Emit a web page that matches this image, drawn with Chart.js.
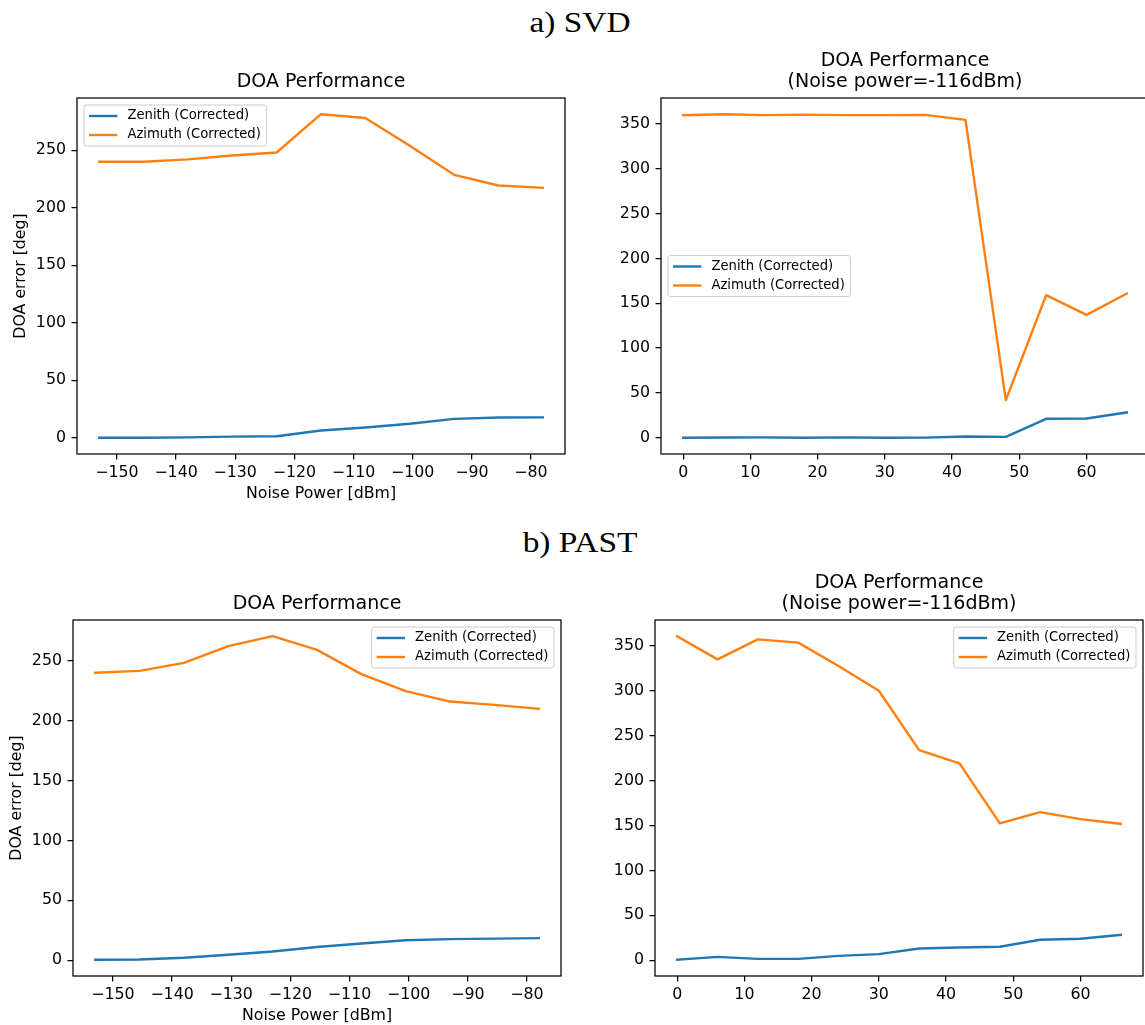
<!DOCTYPE html>
<html>
<head>
<meta charset="utf-8">
<script src="https://cdn.jsdelivr.net/npm/chart.js@4/dist/chart.umd.min.js"></script>
<style>
html,body{margin:0;padding:0;background:#fff;overflow:hidden;width:1145px;height:1025px;}
.panel{position:absolute;}
.panel canvas{display:block;}
.sup{position:absolute;font-family:"Liberation Serif","DejaVu Serif",serif;font-size:29px;line-height:1;color:#000;white-space:nowrap;transform:translateX(-50%) scaleX(1.15);transform-origin:center;}
</style>
</head>
<body>
<div class="sup" style="left:579.5px;top:7.5px;">a) SVD</div>
<div class="sup" style="left:579.5px;top:527.5px;">b) PAST</div>
<div class="panel" id="pA1"><canvas id="cA1"></canvas></div>
<div class="panel" id="pA2"><canvas id="cA2"></canvas></div>
<div class="panel" id="pB1"><canvas id="cB1"></canvas></div>
<div class="panel" id="pB2"><canvas id="cB2"></canvas></div>
<script>
// ---------- data ----------
const noisePower = [-153, -145.5, -138, -130.5, -123, -115.5, -108, -100.5, -93, -85.5, -78];
const snrAxis = [0, 6, 12, 18, 24, 30, 36, 42, 48, 54, 60, 66];

const svdNoiseZenith  = [0, 0, 0.4, 1, 1.4, 6.4, 9, 12.2, 16.5, 17.7, 17.8];
const svdNoiseAzimuth = [240, 240, 242, 245.4, 248, 281.3, 278, 253.8, 228.6, 219.3, 217.3];

const svdSnrZenith  = [0, 0.3, 0.5, 0, 0.5, 0, 0.2, 1.5, 1.1, 21.2, 21.6, 28.3];
const svdSnrAzimuth = [359.7, 360.8, 359.7, 360.3, 359.7, 359.7, 360, 354.4, 42, 159, 137, 160.8];

const pastNoiseZenith  = [0.3, 0.6, 2, 4.5, 7.2, 11, 13.9, 16.7, 17.6, 18, 18.4];
const pastNoiseAzimuth = [240, 241.6, 248.3, 262.3, 270.6, 259.2, 238.9, 224.7, 216, 213.2, 210];

const pastSnrZenith  = [0.4, 3.7, 1.5, 1.5, 4.8, 6.7, 13, 14.1, 14.9, 22.7, 23.8, 28.2];
const pastSnrAzimuth = [361, 335.2, 357.5, 353.8, 327.7, 300.2, 234, 219.2, 152.4, 165, 157.2, 151.9];

const noiseTicks = [-150, -140, -130, -120, -110, -100, -90, -80];
const snrTicks = [0, 10, 20, 30, 40, 50, 60];
const errTicksLow = [0, 50, 100, 150, 200, 250];
const errTicksHigh = [0, 50, 100, 150, 200, 250, 300, 350];

const seriesLabels = ['Zenith (Corrected)', 'Azimuth (Corrected)'];
const seriesColors = ['#1f77b4', '#ff7f0e'];

const titleSingle = 'DOA Performance';
const titleDouble = ['DOA Performance', '(Noise power=-116dBm)'];
const xAxisLabel = 'Noise Power [dBm]';
const yAxisLabel = 'DOA error [deg]';

// ---------- helpers ----------
const FONT = '"DejaVu Sans", sans-serif';
Chart.defaults.font.family = FONT;
Chart.defaults.color = '#000';

function padRange(arrs) {
  const all = [].concat(...arrs);
  const lo = Math.min(...all), hi = Math.max(...all), m = (hi - lo) * 0.05;
  return [lo - m, hi + m];
}
function fmt(v) { return v < 0 ? '\u2212' + Math.abs(v) : String(v); }

const framePlugin = {
  id: 'mplFrame',
  afterDatasetsDraw(chart, args, opts) {
    const ctx = chart.ctx, ca = chart.chartArea;
    ctx.save();
    // spines
    ctx.strokeStyle = '#000';
    ctx.lineWidth = 1.25;
    ctx.strokeRect(ca.left, ca.top, ca.right - ca.left, ca.bottom - ca.top);
    // legend box
    const fs = 13.2;
    ctx.font = fs + 'px ' + FONT;
    const ds = chart.data.datasets;
    const tw = Math.max(...ds.map(d => ctx.measureText(d.label).width));
    const textX = 43.4, w = textX + tw + 5.5, h = 41, pad = 7;
    let x, y;
    if (opts.loc === 'upper left') { x = ca.left + pad; y = ca.top + pad; }
    else if (opts.loc === 'upper right') { x = ca.right - pad - w; y = ca.top + pad; }
    else { x = ca.left + pad; y = (ca.top + ca.bottom) / 2 - h / 2; }
    const r = 2.6;
    ctx.beginPath();
    ctx.moveTo(x + r, y);
    ctx.lineTo(x + w - r, y); ctx.arcTo(x + w, y, x + w, y + r, r);
    ctx.lineTo(x + w, y + h - r); ctx.arcTo(x + w, y + h, x + w - r, y + h, r);
    ctx.lineTo(x + r, y + h); ctx.arcTo(x, y + h, x, y + h - r, r);
    ctx.lineTo(x, y + r); ctx.arcTo(x, y, x + r, y, r);
    ctx.closePath();
    ctx.fillStyle = 'rgba(255,255,255,0.8)';
    ctx.fill();
    ctx.strokeStyle = '#cccccc';
    ctx.lineWidth = 1;
    ctx.stroke();
    ds.forEach((d, i) => {
      const cy = y + 11 + i * 19;
      ctx.beginPath();
      ctx.strokeStyle = d.borderColor;
      ctx.lineWidth = d.borderWidth;
      ctx.lineCap = 'butt';
      ctx.moveTo(x + 5, cy); ctx.lineTo(x + 33.4, cy);
      ctx.stroke();
      ctx.fillStyle = '#000';
      ctx.textBaseline = 'middle';
      ctx.textAlign = 'left';
      ctx.fillText(d.label, x + textX, cy);
    });
    ctx.restore();
  }
};

const YW = 90, TH = 60, XH = 60, PR = 20;

function makePanel(cfg) {
  const wrap = document.getElementById(cfg.wrap);
  const cv = document.getElementById(cfg.canvas);
  const a = cfg.area;
  const W = (a.r - a.l) + YW + PR, H = (a.b - a.t) + TH + XH;
  wrap.style.left = (a.l - YW) + 'px';
  wrap.style.top = (a.t - TH) + 'px';
  cv.width = W; cv.height = H;
  cv.style.width = W + 'px'; cv.style.height = H + 'px';

  const [xmin, xmax] = padRange([cfg.xs]);
  const [ymin, ymax] = padRange([cfg.zen, cfg.azi]);
  const nLines = Array.isArray(cfg.title) ? cfg.title.length : 1;
  const tpb = 5;
  const tpt = TH - nLines * 21 - tpb;

  const tickGrid = { display: true, drawOnChartArea: false, drawTicks: true, tickLength: 5.5, color: '#000', lineWidth: 1.25 };

  new Chart(cv, {
    type: 'line',
    data: {
      datasets: [
        { label: seriesLabels[0], data: cfg.xs.map((x, i) => ({ x: x, y: cfg.zen[i] })), borderColor: seriesColors[0], backgroundColor: seriesColors[0], borderWidth: 2.4, pointRadius: 0, tension: 0, fill: false, borderJoinStyle: 'round', borderCapStyle: 'square' },
        { label: seriesLabels[1], data: cfg.xs.map((x, i) => ({ x: x, y: cfg.azi[i] })), borderColor: seriesColors[1], backgroundColor: seriesColors[1], borderWidth: 2.4, pointRadius: 0, tension: 0, fill: false, borderJoinStyle: 'round', borderCapStyle: 'square' }
      ]
    },
    options: {
      responsive: false,
      animation: false,
      devicePixelRatio: 1,
      layout: { padding: { left: 0, top: 0, right: PR, bottom: 0 } },
      plugins: {
        legend: { display: false },
        tooltip: { enabled: false },
        title: {
          display: true, text: cfg.title, fullSize: false, color: '#000',
          font: { family: FONT, size: 19, weight: 'normal', lineHeight: '21px' },
          padding: { top: tpt, bottom: tpb }
        },
        mplFrame: { loc: cfg.legendLoc }
      },
      scales: {
        x: {
          type: 'linear', min: xmin, max: xmax,
          afterBuildTicks: s => { s.ticks = cfg.xTicks.map(v => ({ value: v })); },
          afterFit: s => { s.height = XH; },
          ticks: { callback: v => fmt(v), color: '#000', font: { family: FONT, size: 15.8 }, padding: 4, maxRotation: 0, autoSkip: false },
          grid: tickGrid,
          border: { display: false },
          title: { display: !!cfg.xLabel, text: cfg.xLabel || '', color: '#000', font: { family: FONT, size: 15.8 }, padding: { top: 0, bottom: 11 } }
        },
        y: {
          type: 'linear', min: ymin, max: ymax,
          afterBuildTicks: s => { s.ticks = cfg.yTicks.map(v => ({ value: v })); },
          afterFit: s => { s.width = YW; },
          ticks: { callback: v => fmt(v), color: '#000', font: { family: FONT, size: 15.8 }, padding: 5.5, autoSkip: false },
          grid: tickGrid,
          border: { display: false },
          title: { display: !!cfg.yLabel, text: cfg.yLabel || '', color: '#000', font: { family: FONT, size: 15.8 }, padding: { top: 24, bottom: 0 } }
        }
      }
    },
    plugins: [framePlugin]
  });
}

makePanel({ wrap: 'pA1', canvas: 'cA1', area: { l: 77, r: 565, t: 98, b: 454 },
  xs: noisePower, zen: svdNoiseZenith, azi: svdNoiseAzimuth, xTicks: noiseTicks, yTicks: errTicksLow,
  title: titleSingle, xLabel: xAxisLabel, yLabel: yAxisLabel, legendLoc: 'upper left' });
makePanel({ wrap: 'pA2', canvas: 'cA2', area: { l: 661, r: 1149, t: 98, b: 454 },
  xs: snrAxis, zen: svdSnrZenith, azi: svdSnrAzimuth, xTicks: snrTicks, yTicks: errTicksHigh,
  title: titleDouble, legendLoc: 'center left' });
makePanel({ wrap: 'pB1', canvas: 'cB1', area: { l: 73, r: 561, t: 620, b: 976 },
  xs: noisePower, zen: pastNoiseZenith, azi: pastNoiseAzimuth, xTicks: noiseTicks, yTicks: errTicksLow,
  title: titleSingle, xLabel: xAxisLabel, yLabel: yAxisLabel, legendLoc: 'upper right' });
makePanel({ wrap: 'pB2', canvas: 'cB2', area: { l: 655, r: 1143, t: 620, b: 976 },
  xs: snrAxis, zen: pastSnrZenith, azi: pastSnrAzimuth, xTicks: snrTicks, yTicks: errTicksHigh,
  title: titleDouble, legendLoc: 'upper right' });
</script>
</body>
</html>
